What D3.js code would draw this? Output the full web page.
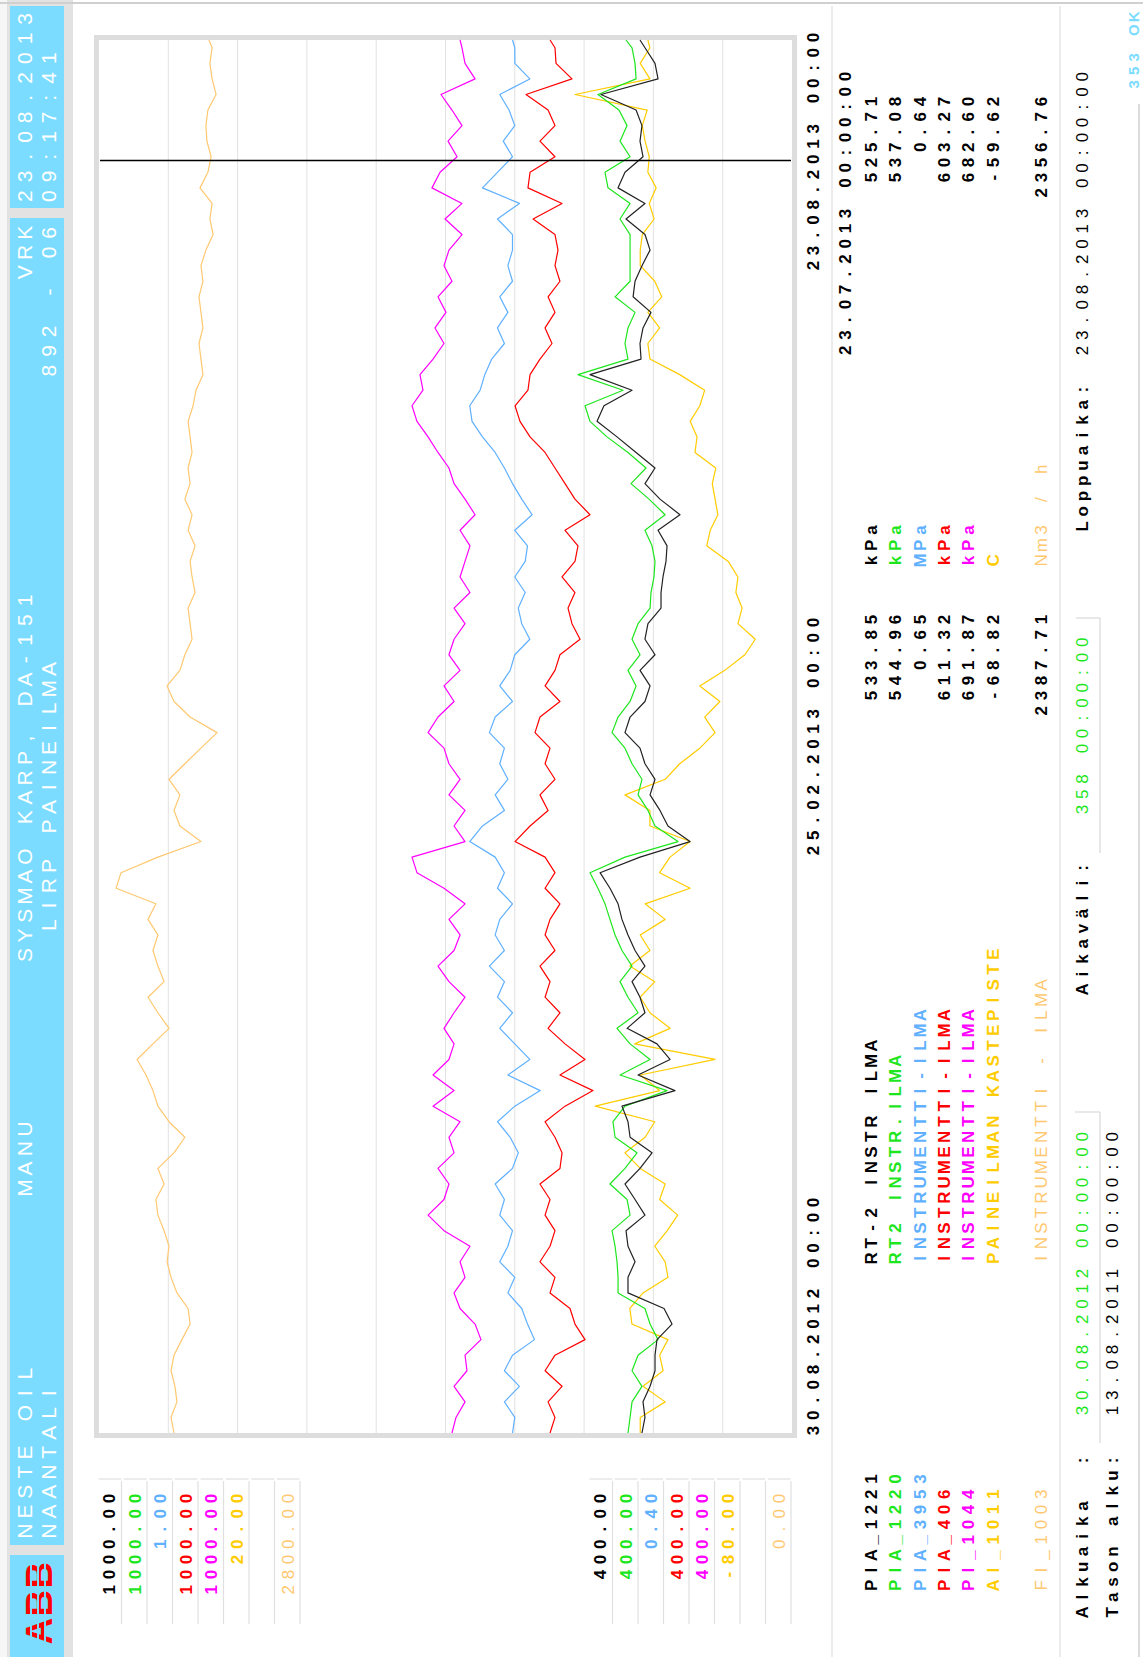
<!DOCTYPE html>
<html>
<head>
<meta charset="utf-8">
<script src="https://cdnjs.cloudflare.com/ajax/libs/d3/7.8.5/d3.min.js"></script>
<style>
  body { margin: 0; background: #fff; }
  svg { display: block; }
  text { white-space: pre; }
</style>
</head>
<body>
<div id="main"></div>
<script>
// trend screen, drawn landscape and turned a quarter left
const tagNames = ["PIA_1221", "PIA_1220", "PIA_3953", "PIA_406", "PI_1044", "AI_1011", "", "FI_1003"];
const tagDescs = ["RT-2 INSTR ILMA", "RT2 INSTR.ILMA", "INSTRUMENTTI-ILMA", "INSTRUMENTTI-ILMA",
                  "INSTRUMENTTI-ILMA", "PAINEILMAN KASTEPISTE", "", "INSTRUMENTTI - ILMA"];
const tagUnits = ["kPa", "kPa", "MPa", "kPa", "kPa", "C", "", "Nm3 / h"];
const tagColors = ["#000000", "#1ee61e", "#5fb0ff", "#ff0000", "#ff00ff", "#ffcc00", null, "#ffc870"];
const scaleMax = ["1000.00", "1000.00", "1.00", "1000.00", "1000.00", "20.00", "", "2800.00"];
const scaleMin = ["400.00", "400.00", "0.40", "400.00", "400.00", "-80.00", "", "0.00"];
const midValues = ["533.85", "544.96", "0.65", "611.32", "691.87", "-68.82", "", "2387.71"];
const cursorValues = ["525.71", "537.08", "0.64", "603.27", "682.60", "-59.62", "", "2356.76"];

const startDate = "2012-08-30", midDate = "2013-02-25", endDate = "2013-08-23", cursorDate = "2013-07-23";
const timeLabels = ["30.08.2012 00:00", "25.02.2013 00:00", "23.08.2013 00:00"];
// one reading every 4 days, last one on the end date
const sampleDays = d3.range(0, 357, 4).concat([358]);

const pia1221 = [529.9,527.3,529.0,522.9,518.6,518.6,516.9,503.9,510.8,542.0,
  542.0,535.9,542.0,543.7,527.3,535.9,544.6,531.6,521.2,540.2,
  542.0,547.2,501.3,533.3,505.6,516.9,542.8,527.3,531.6,538.5,
  527.3,535.9,542.0,547.2,550.6,557.6,566.2,531.6,488.3,507.4,
  514.3,522.9,518.6,527.3,531.6,544.6,540.2,527.3,522.9,531.6,
  518.6,527.3,524.7,513.4,513.4,511.7,509.1,508.2,516.0,497.0,
  514.3,527.3,518.6,535.0,551.5,568.8,562.8,538.5,574.9,530.7,
  531.6,529.0,522.1,537.6,535.9,529.9,522.9,527.3,543.7,527.3,
  550.6,544.6,529.0,531.6,529.9,535.0,565.4,516.0,518.6,527.3,
  531.6];
const pia1220 = [542.0,540.2,538.5,529.9,538.5,533.3,516.0,522.9,527.3,550.6,
  550.6,551.5,553.2,555.8,540.2,542.8,557.6,544.6,534.2,553.2,
  555.0,544.6,508.2,548.9,522.9,540.2,551.5,533.3,542.0,548.9,
  538.5,547.2,553.2,557.6,561.9,568.0,574.9,544.6,498.7,518.6,
  524.7,533.3,529.9,538.5,544.6,555.8,550.6,540.2,535.0,542.0,
  531.6,538.5,533.3,522.9,522.1,519.5,518.6,521.2,527.3,509.9,
  523.8,539.4,526.4,542.0,560.2,574.9,579.2,546.3,585.3,542.0,
  544.6,542.0,535.9,553.2,540.2,540.2,540.2,540.2,548.9,540.2,
  559.3,561.9,540.2,548.9,542.8,549.8,568.0,535.0,535.9,538.5,
  543.7];
const pia3953 = [.642,.640,.649,.636,.649,.642,.623,.629,.634,.646,
  .640,.653,.646,.642,.653,.649,.657,.642,.637,.644,
  .655,.640,.618,.646,.627,.640,.653,.642,.655,.649,
  .662,.649,.657,.653,.642,.655,.649,.657,.679,.668,
  .649,.657,.646,.653,.649,.662,.657,.642,.653,.644,
  .640,.627,.634,.637,.631,.640,.631,.629,.640,.625,
  .634,.642,.649,.657,.668,.677,.679,.670,.666,.660,
  .649,.655,.646,.653,.642,.646,.642,.642,.655,.636,
  .668,.655,.642,.650,.640,.645,.653,.627,.640,.640,
  .642];
const pia406 = [609.5,605.2,611.2,599.1,613.8,605.2,579.2,587.9,592.2,609.5,
  605.2,618.2,609.5,605.2,613.8,609.5,618.2,600.9,599.1,605.2,
  613.8,596.5,572.3,600.9,579.2,596.5,611.2,600.9,613.8,609.5,
  618.2,605.2,613.8,609.5,600.9,613.8,605.2,613.8,639.8,626.8,
  611.2,618.2,605.2,613.8,609.5,622.5,618.2,600.9,613.8,605.2,
  600.9,583.5,590.5,593.9,587.9,599.1,587.9,585.3,596.5,574.9,
  587.9,596.5,605.2,613.8,626.8,635.5,639.8,628.6,626.8,618.2,
  607.8,613.8,605.2,611.2,600.9,605.2,602.6,605.2,624.2,599.1,
  628.6,626.8,605.2,618.2,605.2,611.2,630.3,590.5,604.3,605.2,
  609.5];
const pi1044 = [694.4,690.9,683.1,692.6,681.4,683.1,669.3,674.4,687.4,692.6,
  683.1,687.4,678.8,701.3,715.1,701.3,697.0,706.5,692.6,697.0,
  687.4,710.8,692.6,710.8,697.0,692.6,701.3,692.6,683.1,697.0,
  706.5,692.6,687.4,697.0,683.1,701.3,724.7,729.0,683.1,692.6,
  683.1,697.0,687.4,697.0,701.3,715.1,706.5,692.6,701.3,687.4,
  697.0,692.6,683.1,692.6,678.8,687.4,683.1,678.8,687.4,674.4,
  683.1,692.6,697.0,706.5,715.1,724.7,729.0,719.5,722.1,710.8,
  701.3,709.1,699.6,706.5,694.4,701.3,697.0,685.7,700.4,685.7,
  711.7,704.7,690.0,697.8,685.7,694.4,703.9,674.4,683.1,685.7,
  687.4];
const ai1011 = [-58.1,-58.1,-61.7,-58.5,-61.4,-60.9,-62.1,-56.9,-56.6,-58.5,
  -62.1,-61.7,-60.2,-62.0,-63.5,-60.9,-61.7,-58.1,-55.9,-58.8,
  -60.2,-51.6,-60.9,-58.1,-68.9,-57.3,-62.4,-59.5,-58.1,-60.2,
  -56.6,-59.5,-58.1,-61.7,-58.8,-65.3,-60.9,-62.4,-65.3,-59.5,
  -59.5,-55.9,-61.7,-63.8,-66.7,-68.9,-67.4,-69.6,-66.7,-70.3,
  -73.2,-74.7,-72.2,-72.8,-71.9,-72.2,-70.8,-67.7,-68.2,-69.3,
  -68.9,-68.5,-69.0,-66.0,-66.3,-65.3,-66.7,-67.4,-63.8,-59.5,
  -59.2,-60.9,-59.2,-61.2,-60.2,-58.1,-58.1,-58.4,-60.1,-59.4,
  -60.4,-59.2,-59.4,-58.8,-58.4,-59.1,-48.7,-59.5,-58.1,-59.5,
  -59.2];
const fi1003 = [2497,2509,2485,2493,2509,2497,2465,2432,2440,2485,
  2509,2525,2517,2537,2562,2570,2537,2562,2497,2453,
  2517,2562,2582,2610,2646,2582,2517,2562,2602,2537,
  2562,2582,2562,2602,2570,2731,2711,2562,2388,2473,
  2497,2473,2517,2453,2388,2323,2432,2497,2525,2473,
  2453,2424,2432,2440,2412,2424,2432,2412,2440,2424,
  2453,2432,2440,2424,2432,2440,2420,2408,2380,2388,
  2396,2380,2388,2396,2380,2388,2368,2339,2352,2343,
  2392,2360,2347,2364,2368,2360,2327,2343,2352,2343,
  2356];

const headerBlue = "#7bdcff", lineGray = "#dcdcdc";
const FONT = "'Liberation Sans', Arial, Helvetica, sans-serif";

const svg = d3.select("#main").append("svg").attr("width", 1143).attr("height", 1657);
svg.append("rect").attr("width", 1143).attr("height", 1657).attr("fill", "#fff");
const g = svg.append("g").attr("transform", "translate(0,1657) rotate(-90)");

// fixed pitch text, every glyph centred in its own cell
function mono(sel, x, y, str, o) {
  o = o || {};
  const adv = o.adv || 15.2;
  const chars = Array.from(str);
  let x0 = x;
  if (o.align === "end") x0 = x - chars.length * adv;
  if (o.align === "middle") x0 = x - chars.length * adv / 2;
  return sel.append("text")
    .attr("x", chars.map((c, i) => (x0 + adv * (i + 0.5)).toFixed(1)).join(" "))
    .attr("y", y)
    .attr("xml:space", "preserve")
    .attr("text-anchor", "middle")
    .attr("font-family", FONT)
    .attr("font-size", o.size || 17)
    .attr("font-weight", o.weight || "bold")
    .attr("fill", o.fill || "#000")
    .text(str);
}

function hline(x1, x2, y, col, w) {
  g.append("line").attr("x1", x1).attr("x2", x2).attr("y1", y).attr("y2", y)
    .attr("stroke", col || lineGray).attr("stroke-width", w || 1);
}
function vline(x, y1, y2, col, w) {
  g.append("line").attr("x1", x).attr("x2", x).attr("y1", y1).attr("y2", y2)
    .attr("stroke", col || lineGray).attr("stroke-width", w || 1);
}

// header band
g.append("rect").attr("x", 0).attr("y", 0).attr("width", 1657).attr("height", 73).attr("fill", "#e2e2e2");
g.append("rect").attr("x", 0).attr("y", 0).attr("width", 1657).attr("height", 7).attr("fill", "#f6f6f6");
[[0, 102], [112, 1439], [1449, 1651]].forEach(p => {
  g.append("rect").attr("x", p[0]).attr("y", 10).attr("width", p[1] - p[0]).attr("height", 54).attr("fill", headerBlue);
});
const hdr = { adv: 19.7, size: 21, weight: "normal", fill: "#fff" };
mono(g, 116, 32, "NESTE OIL", hdr);
mono(g, 116, 56, "NAANTALI", hdr);
mono(g, 459, 32, "MANU", hdr);
mono(g, 692, 32, "SYSMAO KARP, DA-151", hdr);
mono(g, 722, 56, "LIRP PAINEILMA", hdr);
mono(g, 1434, 32, "VRK", Object.assign({ align: "end" }, hdr));
mono(g, 1434, 56, "892 - 06", Object.assign({ align: "end" }, hdr));
mono(g, 1451, 32, "23.08.2013", hdr);
mono(g, 1451, 56, "09:17:41", hdr);

// ABB logo
mono(g, 12, 52, "ABB", { adv: 28, size: 37, weight: "bold", fill: "#ff0000" });
[31, 38, 45].forEach(y => hline(8, 96, y, headerBlue, 2));

// outer frame lines
vline(1654, 0, 1143, "#d0d0d0", 2);
hline(0, 1553, 1139, "#d0d0d0", 1.5);

// plot area
const plot = { x0: 224, x1: 1617, y0: 99, y1: 792 };
const parse = d3.timeParse("%Y-%m-%d");
const t0 = parse(startDate), t1 = parse(endDate);
const x = d3.scaleTime().domain([t0, t1]).range([plot.x0, plot.x1]);
const dates = sampleDays.map(d => d3.timeDay.offset(t0, d));

g.append("rect").attr("x", plot.x0 - 2.5).attr("y", plot.y0 - 2.5)
  .attr("width", plot.x1 - plot.x0 + 5).attr("height", plot.y1 - plot.y0 + 5)
  .attr("fill", "#fff").attr("stroke", "#dddddd").attr("stroke-width", 5);

const grid = d3.scaleLinear().domain([0, 10]).range([plot.y1, plot.y0]);
d3.range(1, 10).forEach(k => hline(plot.x0, plot.x1, grid(k), "#e2e2e2", 1));

const series = [
  { values: fi1003, i: 7 },
  { values: pi1044, i: 4 },
  { values: pia3953, i: 2 },
  { values: pia406, i: 3 },
  { values: ai1011, i: 5 },
  { values: pia1220, i: 1 },
  { values: pia1221, i: 0 }
];
series.forEach(s => {
  const y = d3.scaleLinear().domain([+scaleMin[s.i], +scaleMax[s.i]]).range([plot.y1, plot.y0]);
  const line = d3.line().x((d, j) => x(dates[j])).y(d => y(d));
  g.append("path").attr("d", line(s.values)).attr("fill", "none")
    .attr("stroke", s.i === 0 ? "#222" : tagColors[s.i]).attr("stroke-width", 1.2)
    .attr("stroke-linejoin", "round");
});

// cursor
const xc = x(parse(cursorDate));
vline(xc, plot.y0 + 1, plot.y1 - 1, "#000", 1.5);

// time labels
mono(g, plot.x0 - 5, 819, timeLabels[0], {});
mono(g, x(parse(midDate)), 819, timeLabels[1], { align: "middle" });
mono(g, plot.x1 + 10, 819, timeLabels[2], { align: "end" });

// scale label cells
function scaleCells(top, labels) {
  labels.forEach((lab, k) => {
    const yt = top + 25.5 * k;
    hline(33, 176, yt + 24.5, "#e0e0e0", 1.2);
    vline(178, yt + 1.5, yt + 24, "#e0e0e0", 1.2);
    if (lab) mono(g, 166, yt + 18, lab, { align: "end", fill: tagColors[k], weight: k === 7 ? "normal" : "bold" });
  });
}
scaleCells(97, scaleMax);
scaleCells(588, scaleMin);

// legend panel
hline(0, 1651, 832, "#e0e0e0", 1.2);
hline(0, 1651, 1060, "#e0e0e0", 1.2);
mono(g, 1588, 851, d3.timeFormat("%d.%m.%Y")(parse(cursorDate)) + " 00:00:00", { align: "end" });
tagNames.forEach((name, k) => {
  if (!name) return;
  const yb = 877 + 24.3 * k;
  const o = { fill: tagColors[k], weight: k === 7 ? "normal" : "bold" };
  mono(g, 64, yb, name, o);
  mono(g, 391, yb, tagDescs[k], o);
  mono(g, 1045, yb, midValues[k], Object.assign({ align: "end" }, o, { fill: "#000", weight: "bold" }));
  mono(g, 1089, yb, tagUnits[k], o);
  mono(g, 1563, yb, cursorValues[k], Object.assign({ align: "end" }, o, { fill: "#000", weight: "bold" }));
});

// time range fields
mono(g, 37, 1088, "Alkuaika  :", {});
mono(g, 37, 1118, "Tason alku:", {});
mono(g, 239, 1088, "30.08.2012 00:00:00", { weight: "normal", fill: "#1ee61e" });
mono(g, 239, 1118, "13.08.2011 00:00:00", { weight: "normal" });
hline(214, 545, 1100, "#d8d8d8", 1.2);
vline(545, 1075, 1100, "#d8d8d8", 1.2);
mono(g, 660, 1088, "Aikaväli:", {});
mono(g, 840, 1088, "358 00:00:00", { weight: "normal", fill: "#1ee61e" });
hline(804, 1039, 1100, "#d8d8d8", 1.2);
vline(1039, 1076, 1100, "#d8d8d8", 1.2);
mono(g, 1123, 1088, "Loppuaika:", {});
mono(g, 1299, 1088, "23.08.2013 00:00:00", { weight: "normal" });

mono(g, 1566, 1139, "353 OK", { adv: 13.5, size: 15, fill: headerBlue });
</script>
</body>
</html>
